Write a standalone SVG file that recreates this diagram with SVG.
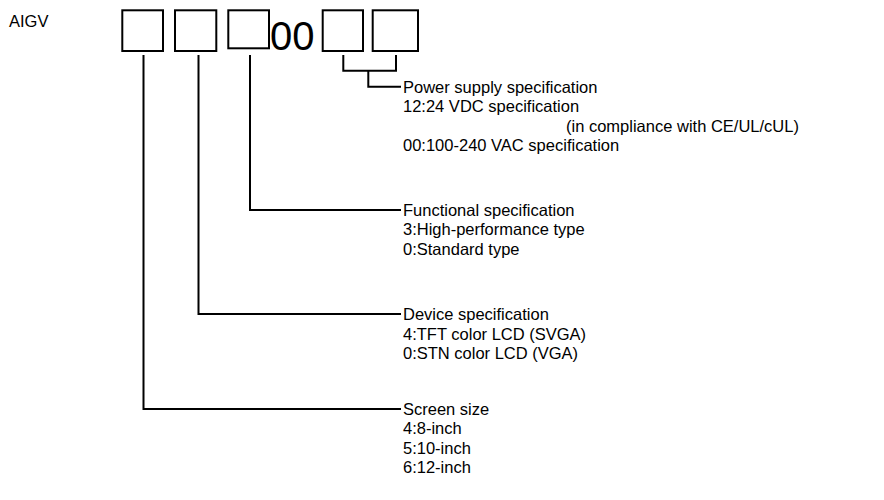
<svg xmlns="http://www.w3.org/2000/svg" width="884" height="500" viewBox="0 0 884 500">
<style>
  .t { font-family: "Liberation Sans", Arial, sans-serif; font-size: 16.5px; fill: #000; }
  .big { font-family: "Liberation Sans", Arial, sans-serif; font-size: 40px; fill: #000; }
  .box { fill: none; stroke: #000; stroke-width: 2; }
  .ln { fill: none; stroke: #000; stroke-width: 2; }
</style>
<rect width="884" height="500" fill="#fff"/>
<g id="model">
  <text class="t" x="9" y="27">AIGV</text>
  <rect class="box" x="122.3" y="10.3" width="40.7" height="40.7"/>
  <rect class="box" x="175" y="10.3" width="41.3" height="40.7"/>
  <rect class="box" x="228.3" y="10.3" width="40.7" height="38"/>
  <text class="big" x="270" y="49.5">00</text>
  <rect class="box" x="322.7" y="10.3" width="40.3" height="40.7"/>
  <rect class="box" x="372.7" y="10.3" width="45.3" height="40.7"/>
</g>
<g id="connectors">
  <path class="ln" d="M143.5,55 V409 H401"/>
  <path class="ln" d="M198.5,55 V314 H401"/>
  <path class="ln" d="M250,55 V210 H401"/>
  <path class="ln" d="M343.3,55 V70.7 H396 V55"/>
  <path class="ln" d="M368.3,70.7 V86.7 H401"/>
</g>
<g id="power">
  <text class="t" x="403" y="92.5">Power supply specification</text>
  <text class="t" x="403" y="112">12:24 VDC specification</text>
  <text class="t" x="566" y="131.5">(in compliance with CE/UL/cUL)</text>
  <text class="t" x="403" y="151">00:100-240 VAC specification</text>
</g>
<g id="functional">
  <text class="t" x="403" y="215.5">Functional specification</text>
  <text class="t" x="403" y="235">3:High-performance type</text>
  <text class="t" x="403" y="254.5">0:Standard type</text>
</g>
<g id="device">
  <text class="t" x="403" y="320">Device specification</text>
  <text class="t" x="403" y="339.5">4:TFT color LCD (SVGA)</text>
  <text class="t" x="403" y="359">0:STN color LCD (VGA)</text>
</g>
<g id="screen">
  <text class="t" x="403" y="414.5">Screen size</text>
  <text class="t" x="403" y="434">4:8-inch</text>
  <text class="t" x="403" y="453.5">5:10-inch</text>
  <text class="t" x="403" y="473">6:12-inch</text>
</g>
</svg>
